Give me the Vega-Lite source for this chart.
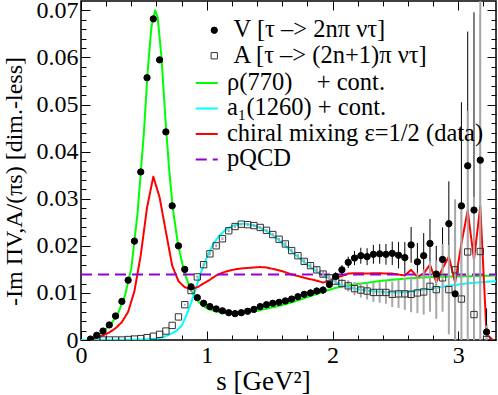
{
"$schema": "https://vega.github.io/schema/vega-lite/v6.json",
"width": 415, "height": 339,
"autosize": {"type": "none"},
"padding": {"left": 81, "top": 1, "right": 2, "bottom": 55},
"background": "white",
"datasets": {
"lines": [
{"m":"rho","s":0.07,"v":0},{"m":"rho","s":0.1,"v":0.0005},{"m":"rho","s":0.15,"v":0.0013},{"m":"rho","s":0.2,"v":0.0024},{"m":"rho","s":0.25,"v":0.0038},{"m":"rho","s":0.3,"v":0.006},{"m":"rho","s":0.35,"v":0.0095},{"m":"rho","s":0.4,"v":0.0152},{"m":"rho","s":0.45,"v":0.027},{"m":"rho","s":0.5,"v":0.044},{"m":"rho","s":0.53,"v":0.057},{"m":"rho","s":0.56,"v":0.0665},{"m":"rho","s":0.59,"v":0.07},{"m":"rho","s":0.61,"v":0.0685},{"m":"rho","s":0.64,"v":0.06},{"m":"rho","s":0.67,"v":0.0475},{"m":"rho","s":0.7,"v":0.0365},{"m":"rho","s":0.73,"v":0.028},{"m":"rho","s":0.77,"v":0.0205},{"m":"rho","s":0.82,"v":0.0145},{"m":"rho","s":0.87,"v":0.0108},{"m":"rho","s":0.92,"v":0.0085},{"m":"rho","s":0.97,"v":0.0072},{"m":"rho","s":1.02,"v":0.0065},{"m":"rho","s":1.1,"v":0.0059},{"m":"rho","s":1.2,"v":0.0056},{"m":"rho","s":1.3,"v":0.0058},{"m":"rho","s":1.4,"v":0.0062},{"m":"rho","s":1.5,"v":0.0068},{"m":"rho","s":1.6,"v":0.0074},{"m":"rho","s":1.7,"v":0.0082},{"m":"rho","s":1.8,"v":0.0091},{"m":"rho","s":1.9,"v":0.01},{"m":"rho","s":2.0,"v":0.0109},{"m":"rho","s":2.1,"v":0.0115},{"m":"rho","s":2.2,"v":0.0119},{"m":"rho","s":2.4,"v":0.0126},{"m":"rho","s":2.6,"v":0.0131},{"m":"rho","s":2.8,"v":0.0134},{"m":"rho","s":3.0,"v":0.0135},{"m":"rho","s":3.3,"v":0.0137},
{"m":"a1","s":0,"v":0},{"m":"a1","s":0.3,"v":0},{"m":"a1","s":0.5,"v":0.0001},{"m":"a1","s":0.6,"v":0.0003},{"m":"a1","s":0.65,"v":0.0006},{"m":"a1","s":0.7,"v":0.0011},{"m":"a1","s":0.75,"v":0.0018},{"m":"a1","s":0.8,"v":0.003},{"m":"a1","s":0.85,"v":0.006},{"m":"a1","s":0.9,"v":0.0098},{"m":"a1","s":0.95,"v":0.014},{"m":"a1","s":1.0,"v":0.0175},{"m":"a1","s":1.05,"v":0.0203},{"m":"a1","s":1.1,"v":0.0222},{"m":"a1","s":1.15,"v":0.0234},{"m":"a1","s":1.2,"v":0.0242},{"m":"a1","s":1.25,"v":0.0246},{"m":"a1","s":1.3,"v":0.0247},{"m":"a1","s":1.35,"v":0.0245},{"m":"a1","s":1.4,"v":0.0241},{"m":"a1","s":1.45,"v":0.0235},{"m":"a1","s":1.5,"v":0.0227},{"m":"a1","s":1.55,"v":0.0217},{"m":"a1","s":1.6,"v":0.0206},{"m":"a1","s":1.65,"v":0.0194},{"m":"a1","s":1.7,"v":0.0182},{"m":"a1","s":1.75,"v":0.0171},{"m":"a1","s":1.8,"v":0.016},{"m":"a1","s":1.85,"v":0.015},{"m":"a1","s":1.9,"v":0.0141},{"m":"a1","s":1.95,"v":0.0134},{"m":"a1","s":2.0,"v":0.0127},{"m":"a1","s":2.05,"v":0.0119},{"m":"a1","s":2.1,"v":0.0114},{"m":"a1","s":2.2,"v":0.0108},{"m":"a1","s":2.3,"v":0.0104},{"m":"a1","s":2.4,"v":0.0102},{"m":"a1","s":2.5,"v":0.0101},{"m":"a1","s":2.6,"v":0.0102},{"m":"a1","s":2.7,"v":0.0106},{"m":"a1","s":2.8,"v":0.011},{"m":"a1","s":2.9,"v":0.0114},{"m":"a1","s":3.0,"v":0.0118},{"m":"a1","s":3.1,"v":0.0121},{"m":"a1","s":3.2,"v":0.0123},{"m":"a1","s":3.3,"v":0.0125},
{"m":"chiral","s":0.075,"v":0.0001},{"m":"chiral","s":0.125,"v":0.0005},{"m":"chiral","s":0.175,"v":0.001},{"m":"chiral","s":0.225,"v":0.0016},{"m":"chiral","s":0.275,"v":0.0025},{"m":"chiral","s":0.325,"v":0.0038},{"m":"chiral","s":0.375,"v":0.006},{"m":"chiral","s":0.425,"v":0.0104},{"m":"chiral","s":0.475,"v":0.018},{"m":"chiral","s":0.525,"v":0.0281},{"m":"chiral","s":0.575,"v":0.0347},{"m":"chiral","s":0.625,"v":0.0303},{"m":"chiral","s":0.675,"v":0.023},{"m":"chiral","s":0.725,"v":0.0158},{"m":"chiral","s":0.775,"v":0.0125},{"m":"chiral","s":0.825,"v":0.0112},{"m":"chiral","s":0.875,"v":0.0108},{"m":"chiral","s":0.925,"v":0.0112},{"m":"chiral","s":0.975,"v":0.012},{"m":"chiral","s":1.025,"v":0.0128},{"m":"chiral","s":1.075,"v":0.0137},{"m":"chiral","s":1.125,"v":0.0143},{"m":"chiral","s":1.175,"v":0.0147},{"m":"chiral","s":1.225,"v":0.015},{"m":"chiral","s":1.275,"v":0.0152},{"m":"chiral","s":1.325,"v":0.0153},{"m":"chiral","s":1.375,"v":0.0154},{"m":"chiral","s":1.425,"v":0.0155},{"m":"chiral","s":1.475,"v":0.0154},{"m":"chiral","s":1.525,"v":0.0151},{"m":"chiral","s":1.575,"v":0.0148},{"m":"chiral","s":1.625,"v":0.0144},{"m":"chiral","s":1.675,"v":0.0139},{"m":"chiral","s":1.725,"v":0.0136},{"m":"chiral","s":1.775,"v":0.0132},{"m":"chiral","s":1.825,"v":0.0129},{"m":"chiral","s":1.875,"v":0.0126},{"m":"chiral","s":1.925,"v":0.0122},{"m":"chiral","s":1.975,"v":0.0126},{"m":"chiral","s":2.025,"v":0.0132},{"m":"chiral","s":2.075,"v":0.0136},{"m":"chiral","s":2.125,"v":0.0141},{"m":"chiral","s":2.175,"v":0.0142},{"m":"chiral","s":2.225,"v":0.0142},{"m":"chiral","s":2.275,"v":0.0141},{"m":"chiral","s":2.325,"v":0.0142},{"m":"chiral","s":2.375,"v":0.0142},{"m":"chiral","s":2.425,"v":0.0141},{"m":"chiral","s":2.475,"v":0.0141},{"m":"chiral","s":2.525,"v":0.0139},{"m":"chiral","s":2.575,"v":0.0137},{"m":"chiral","s":2.625,"v":0.0149},{"m":"chiral","s":2.675,"v":0.0134},{"m":"chiral","s":2.725,"v":0.0141},{"m":"chiral","s":2.775,"v":0.016},{"m":"chiral","s":2.825,"v":0.0123},{"m":"chiral","s":2.875,"v":0.0152},{"m":"chiral","s":2.925,"v":0.0177},{"m":"chiral","s":2.975,"v":0.0122},{"m":"chiral","s":3.025,"v":0.0205},{"m":"chiral","s":3.075,"v":0.0275},{"m":"chiral","s":3.125,"v":0.017},{"m":"chiral","s":3.175,"v":0.0284},{"m":"chiral","s":3.225,"v":0.0012},{"m":"chiral","s":3.275,"v":0},
{"m":"pqcd","s":0,"v":0.0139},{"m":"pqcd","s":3.3,"v":0.0139}
],
"V": [
{"series":"V","s":0.075,"v":0.0002,"e":0},{"series":"V","s":0.125,"v":0.001,"e":0},{"series":"V","s":0.175,"v":0.0019,"e":0},{"series":"V","s":0.225,"v":0.0032,"e":0},{"series":"V","s":0.275,"v":0.0051,"e":0},{"series":"V","s":0.325,"v":0.0082,"e":0},{"series":"V","s":0.375,"v":0.0127,"e":0},{"series":"V","s":0.425,"v":0.021,"e":0},{"series":"V","s":0.475,"v":0.0357,"e":0},{"series":"V","s":0.525,"v":0.0557,"e":0},{"series":"V","s":0.575,"v":0.0682,"e":0},{"series":"V","s":0.625,"v":0.0595,"e":0},{"series":"V","s":0.675,"v":0.0442,"e":0},{"series":"V","s":0.725,"v":0.0285,"e":0},{"series":"V","s":0.775,"v":0.02,"e":0},{"series":"V","s":0.825,"v":0.015,"e":0},{"series":"V","s":0.875,"v":0.0113,"e":0},{"series":"V","s":0.925,"v":0.009,"e":0},{"series":"V","s":0.975,"v":0.0078,"e":0},{"series":"V","s":1.025,"v":0.0071,"e":0},{"series":"V","s":1.075,"v":0.0066,"e":0},{"series":"V","s":1.125,"v":0.0062,"e":0},{"series":"V","s":1.175,"v":0.0058,"e":0},{"series":"V","s":1.225,"v":0.0056,"e":0},{"series":"V","s":1.275,"v":0.0058,"e":0.0002},{"series":"V","s":1.325,"v":0.0061,"e":0.0002},{"series":"V","s":1.375,"v":0.0065,"e":0.0003},{"series":"V","s":1.425,"v":0.0071,"e":0.0003},{"series":"V","s":1.475,"v":0.0075,"e":0.0003},{"series":"V","s":1.525,"v":0.0078,"e":0.0004},{"series":"V","s":1.575,"v":0.008,"e":0.0004},{"series":"V","s":1.625,"v":0.0083,"e":0.0005},{"series":"V","s":1.675,"v":0.0087,"e":0.0005},{"series":"V","s":1.725,"v":0.0092,"e":0.0006},{"series":"V","s":1.775,"v":0.0097,"e":0.0006},{"series":"V","s":1.825,"v":0.01,"e":0.0007},{"series":"V","s":1.875,"v":0.0104,"e":0.0007},{"series":"V","s":1.925,"v":0.0106,"e":0.0008},{"series":"V","s":1.975,"v":0.0118,"e":0.0008},{"series":"V","s":2.025,"v":0.0135,"e":0.0009},{"series":"V","s":2.075,"v":0.0149,"e":0.001},{"series":"V","s":2.125,"v":0.0165,"e":0.0012},{"series":"V","s":2.175,"v":0.0174,"e":0.0015},{"series":"V","s":2.225,"v":0.0179,"e":0.0017},{"series":"V","s":2.275,"v":0.0177,"e":0.0018},{"series":"V","s":2.325,"v":0.0182,"e":0.002},{"series":"V","s":2.375,"v":0.0183,"e":0.0021},{"series":"V","s":2.425,"v":0.0182,"e":0.0022},{"series":"V","s":2.475,"v":0.0184,"e":0.0025},{"series":"V","s":2.525,"v":0.018,"e":0.0028},{"series":"V","s":2.575,"v":0.0175,"e":0.0033},{"series":"V","s":2.625,"v":0.0202,"e":0.0038},{"series":"V","s":2.675,"v":0.0166,"e":0.004},{"series":"V","s":2.725,"v":0.0179,"e":0.0048},{"series":"V","s":2.775,"v":0.0205,"e":0.0052},{"series":"V","s":2.825,"v":0.014,"e":0.006},{"series":"V","s":2.875,"v":0.0171,"e":0.0068},{"series":"V","s":2.925,"v":0.0247,"e":0.009},{"series":"V","s":2.975,"v":0.0098,"e":0.014},{"series":"V","s":3.025,"v":0.0285,"e":0.022},{"series":"V","s":3.075,"v":0.037,"e":0.0285},{"series":"V","s":3.125,"v":0.0276,"e":0.042},{"series":"V","s":3.175,"v":0.0382,"e":0.031},{"series":"V","s":3.225,"v":0.0017,"e":0.005}
],
"A": [
{"series":"A","s":0.125,"v":0,"e":0},{"series":"A","s":0.175,"v":0,"e":0},{"series":"A","s":0.225,"v":0,"e":0},{"series":"A","s":0.275,"v":0,"e":0},{"series":"A","s":0.325,"v":0,"e":0},{"series":"A","s":0.375,"v":0.0001,"e":0},{"series":"A","s":0.425,"v":0.0002,"e":0},{"series":"A","s":0.475,"v":0.0003,"e":0},{"series":"A","s":0.525,"v":0.0005,"e":0},{"series":"A","s":0.575,"v":0.0008,"e":0},{"series":"A","s":0.625,"v":0.0012,"e":0},{"series":"A","s":0.675,"v":0.0019,"e":0},{"series":"A","s":0.725,"v":0.0031,"e":0},{"series":"A","s":0.775,"v":0.0049,"e":0},{"series":"A","s":0.825,"v":0.0075,"e":0.0002},{"series":"A","s":0.875,"v":0.0105,"e":0.0003},{"series":"A","s":0.925,"v":0.0134,"e":0.0003},{"series":"A","s":0.975,"v":0.016,"e":0.0003},{"series":"A","s":1.025,"v":0.0183,"e":0.0003},{"series":"A","s":1.075,"v":0.02,"e":0.0003},{"series":"A","s":1.125,"v":0.0215,"e":0.0003},{"series":"A","s":1.175,"v":0.0232,"e":0.0003},{"series":"A","s":1.225,"v":0.0241,"e":0.0003},{"series":"A","s":1.275,"v":0.0246,"e":0.0003},{"series":"A","s":1.325,"v":0.0245,"e":0.0003},{"series":"A","s":1.375,"v":0.0243,"e":0.0003},{"series":"A","s":1.425,"v":0.0239,"e":0.0003},{"series":"A","s":1.475,"v":0.0233,"e":0.0003},{"series":"A","s":1.525,"v":0.0224,"e":0.0003},{"series":"A","s":1.575,"v":0.0214,"e":0.0003},{"series":"A","s":1.625,"v":0.0204,"e":0.0004},{"series":"A","s":1.675,"v":0.019,"e":0.0004},{"series":"A","s":1.725,"v":0.0179,"e":0.0004},{"series":"A","s":1.775,"v":0.0167,"e":0.0005},{"series":"A","s":1.825,"v":0.0158,"e":0.0005},{"series":"A","s":1.875,"v":0.0149,"e":0.0006},{"series":"A","s":1.925,"v":0.014,"e":0.0006},{"series":"A","s":1.975,"v":0.0132,"e":0.0007},{"series":"A","s":2.025,"v":0.0125,"e":0.0008},{"series":"A","s":2.075,"v":0.012,"e":0.001},{"series":"A","s":2.125,"v":0.0115,"e":0.0012},{"series":"A","s":2.175,"v":0.0109,"e":0.0014},{"series":"A","s":2.225,"v":0.0106,"e":0.0016},{"series":"A","s":2.275,"v":0.0104,"e":0.0018},{"series":"A","s":2.325,"v":0.0101,"e":0.002},{"series":"A","s":2.375,"v":0.0101,"e":0.0022},{"series":"A","s":2.425,"v":0.0101,"e":0.0024},{"series":"A","s":2.475,"v":0.0097,"e":0.0027},{"series":"A","s":2.525,"v":0.0098,"e":0.003},{"series":"A","s":2.575,"v":0.0098,"e":0.0034},{"series":"A","s":2.625,"v":0.0097,"e":0.0038},{"series":"A","s":2.675,"v":0.01,"e":0.0043},{"series":"A","s":2.725,"v":0.0102,"e":0.0048},{"series":"A","s":2.775,"v":0.0114,"e":0.0054},{"series":"A","s":2.825,"v":0.0107,"e":0.0062},{"series":"A","s":2.875,"v":0.0132,"e":0.0072},{"series":"A","s":2.925,"v":0.0107,"e":0.0095},{"series":"A","s":2.975,"v":0.0149,"e":0.015},{"series":"A","s":3.025,"v":0.0087,"e":0.02},{"series":"A","s":3.075,"v":0.0187,"e":0.03},{"series":"A","s":3.125,"v":0.0054,"e":0.025},{"series":"A","s":3.175,"v":0.0188,"e":0.06},{"series":"A","s":3.225,"v":0.0001,"e":0.003}
]
},
"resolve": {"axis": {"x": "independent", "y": "independent"}},
"layer": [
{
"data": {"name": "lines"},
"transform": [{"filter": "datum.m != 'pqcd'"}],
"mark": {"type": "line", "clip": true, "strokeJoin": "round"},
"encoding": {
"x": {"field": "s", "type": "quantitative", "scale": {"domain": [0, 3.3], "nice": false, "zero": false},
 "axis": {"orient": "bottom", "values": [0, 1, 2, 3], "format": "d", "tickSize": -9, "labelPadding": 12, "title": "s [GeV²]", "titleX": 182, "titleY": 49, "titleBaseline": "alphabetic", "titleAlign": "center"}},
"y": {"field": "v", "type": "quantitative", "scale": {"domain": [0, 0.072], "nice": false},
 "axis": {"orient": "left", "values": [0, 0.01, 0.02, 0.03, 0.04, 0.05, 0.06, 0.07], "format": ".2~f", "tickSize": -9, "labelPadding": 12, "title": "-Im ΠV,A/(πs) [dim.-less]", "titleFontSize": 24, "titleX": -60, "titleY": 180, "titleAngle": 270, "titleBaseline": "alphabetic", "titleAlign": "center"}},
"color": {"field": "m", "type": "nominal", "scale": {"domain": ["rho", "a1", "chiral", "pqcd"], "range": ["#00ff00", "#00ffff", "#ff0000", "#9400d3"]},
 "legend": {"orient": "none", "legendX": 113.5, "legendY": 69.7, "title": null, "symbolType": "stroke", "symbolSize": 484, "labelOffset": 8, "labelFont": "Liberation Serif", "labelFontSize": 24.5, "labelColor": "black", "labelExpr": "datum.label == 'rho' ? 'ρ(770)\u00a0\u00a0\u00a0 + cont.' : datum.label == 'a1' ? 'a₁(1260) + cont.' : datum.label == 'chiral' ? 'chiral mixing ε=1/2 (data)' : 'pQCD'"}},
"strokeDash": {"field": "m", "type": "nominal", "scale": {"domain": ["rho", "a1", "chiral", "pqcd"], "range": [[1, 0], [1, 0], [1, 0], [11, 6]]},
 "legend": {"orient": "none", "legendX": 113.5, "legendY": 69.7, "title": null, "symbolType": "stroke", "symbolSize": 484, "labelOffset": 8, "labelFont": "Liberation Serif", "labelFontSize": 24.5, "labelColor": "black", "labelExpr": "datum.label == 'rho' ? 'ρ(770)\u00a0\u00a0\u00a0 + cont.' : datum.label == 'a1' ? 'a₁(1260) + cont.' : datum.label == 'chiral' ? 'chiral mixing ε=1/2 (data)' : 'pQCD'"}},
"strokeWidth": {"field": "m", "type": "nominal", "scale": {"domain": ["rho", "a1", "chiral", "pqcd"], "range": [2, 2, 3, 3]},
 "legend": {"orient": "none", "legendX": 113.5, "legendY": 69.7, "title": null, "symbolType": "stroke", "symbolSize": 484, "labelOffset": 8, "labelFont": "Liberation Serif", "labelFontSize": 24.5, "labelColor": "black", "labelExpr": "datum.label == 'rho' ? 'ρ(770)\u00a0\u00a0\u00a0 + cont.' : datum.label == 'a1' ? 'a₁(1260) + cont.' : datum.label == 'chiral' ? 'chiral mixing ε=1/2 (data)' : 'pQCD'"}}
}
},
{
"data": {"name": "lines"},
"transform": [{"filter": "datum.m == 'pqcd'"}],
"mark": {"type": "line", "clip": true},
"encoding": {
"x": {"field": "s", "type": "quantitative", "axis": {"orient": "bottom", "values": [0.2, 0.4, 0.6, 0.8, 1.2, 1.4, 1.6, 1.8, 2.2, 2.4, 2.6, 2.8, 3.2], "tickSize": -5, "labels": false, "title": null}},
"y": {"field": "v", "type": "quantitative", "axis": {"orient": "left", "values": [0.002, 0.004, 0.006, 0.008, 0.012, 0.014, 0.016, 0.018, 0.022, 0.024, 0.026, 0.028, 0.032, 0.034, 0.036, 0.038, 0.042, 0.044, 0.046, 0.048, 0.052, 0.054, 0.056, 0.058, 0.062, 0.064, 0.066, 0.068], "tickSize": -5, "labels": false, "title": null}},
"color": {"field": "m", "type": "nominal"},
"strokeDash": {"field": "m", "type": "nominal"},
"strokeWidth": {"field": "m", "type": "nominal"}
}
},
{
"data": {"name": "V"},
"transform": [{"filter": "datum.e > 0"}],
"mark": {"type": "errorbar", "clip": true, "color": "black", "thickness": 1},
"encoding": {
"x": {"field": "s", "type": "quantitative", "axis": null},
"y": {"field": "v", "type": "quantitative", "axis": null},
"yError": {"field": "e"}
}
},
{
"data": {"name": "A"},
"transform": [{"filter": "datum.e > 0"}],
"mark": {"type": "errorbar", "clip": true, "color": "#a8a8a8", "thickness": 2},
"encoding": {
"x": {"field": "s", "type": "quantitative", "axis": null},
"y": {"field": "v", "type": "quantitative", "axis": null},
"yError": {"field": "e"}
}
},
{
"data": {"name": "A"},
"mark": {"type": "point", "size": 40, "strokeWidth": 1, "opacity": 1, "filled": false, "clip": true},
"encoding": {
"x": {"field": "s", "type": "quantitative", "axis": {"orient": "top", "values": [0, 1, 2, 3], "tickSize": -9, "labels": false, "title": null}},
"y": {"field": "v", "type": "quantitative", "axis": {"orient": "right", "values": [0, 0.01, 0.02, 0.03, 0.04, 0.05, 0.06, 0.07], "tickSize": -9, "labels": false, "title": null}},
"shape": {"field": "series", "type": "nominal", "scale": {"domain": ["V", "A"], "range": ["circle", "square"]},
 "legend": {"orient": "none", "legendX": 121, "legendY": 17, "title": null, "symbolSize": 40, "symbolStrokeWidth": 1, "labelOffset": 7, "labelFont": "Liberation Serif", "labelFontSize": 24.5, "labelColor": "black", "labelExpr": "datum.label == 'V' ? 'V [τ –> 2nπ ντ]' : 'A [τ –> (2n+1)π ντ]'"}},
"fill": {"field": "series", "type": "nominal", "scale": {"domain": ["V", "A"], "range": ["black", "transparent"]},
 "legend": {"orient": "none", "legendX": 121, "legendY": 17, "title": null, "symbolSize": 40, "symbolStrokeWidth": 1, "labelOffset": 7, "labelFont": "Liberation Serif", "labelFontSize": 24.5, "labelColor": "black", "labelExpr": "datum.label == 'V' ? 'V [τ –> 2nπ ντ]' : 'A [τ –> (2n+1)π ντ]'"}},
"stroke": {"field": "series", "type": "nominal", "scale": {"domain": ["V", "A"], "range": ["black", "#333333"]},
 "legend": {"orient": "none", "legendX": 121, "legendY": 17, "title": null, "symbolSize": 40, "symbolStrokeWidth": 1, "labelOffset": 7, "labelFont": "Liberation Serif", "labelFontSize": 24.5, "labelColor": "black", "labelExpr": "datum.label == 'V' ? 'V [τ –> 2nπ ντ]' : 'A [τ –> (2n+1)π ντ]'"}}
}
},
{
"data": {"name": "V"},
"mark": {"type": "point", "size": 40, "strokeWidth": 1, "opacity": 1, "filled": false, "clip": true},
"encoding": {
"x": {"field": "s", "type": "quantitative", "axis": {"orient": "top", "values": [0.2, 0.4, 0.6, 0.8, 1.2, 1.4, 1.6, 1.8, 2.2, 2.4, 2.6, 2.8, 3.2], "tickSize": -5, "labels": false, "title": null}},
"y": {"field": "v", "type": "quantitative", "axis": {"orient": "right", "values": [0.002, 0.004, 0.006, 0.008, 0.012, 0.014, 0.016, 0.018, 0.022, 0.024, 0.026, 0.028, 0.032, 0.034, 0.036, 0.038, 0.042, 0.044, 0.046, 0.048, 0.052, 0.054, 0.056, 0.058, 0.062, 0.064, 0.066, 0.068], "tickSize": -5, "labels": false, "title": null}},
"shape": {"field": "series", "type": "nominal"},
"fill": {"field": "series", "type": "nominal"},
"stroke": {"field": "series", "type": "nominal"}
}
}
],
"config": {
"font": "Liberation Serif",
"view": {"stroke": "black", "strokeWidth": 1.5},
"axis": {"grid": false, "domain": false, "tickColor": "black", "tickWidth": 1, "labelFont": "Liberation Serif", "labelFontSize": 24, "labelColor": "black", "titleFont": "Liberation Serif", "titleFontSize": 27, "titleFontWeight": "normal", "titleColor": "black", "labelFlush": false, "labelOverlap": false},
"legend": {"labelFont": "Liberation Serif", "labelFontSize": 24.5, "labelColor": "black", "rowPadding": 0.5, "padding": 0, "labelLimit": 400}
}
}
